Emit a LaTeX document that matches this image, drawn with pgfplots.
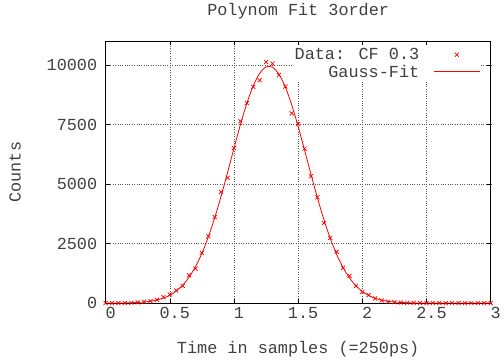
\documentclass[border=0pt]{standalone}
\usepackage{fontspec}
\setmainfont{Liberation Mono}
\usepackage{pgfplots}
\pgfplotsset{compat=1.18}
\definecolor{txt}{gray}{0.25}
\pgfdeclareplotmark{legline}{%
  \pgfpathmoveto{\pgfqpoint{-23pt}{0pt}}%
  \pgfpathlineto{\pgfqpoint{23pt}{0pt}}%
  \pgfusepathqstroke}
\pgfplotsset{
  mylegmark/.style={legend image code/.code={\draw[mark repeat=2,mark phase=2,##1] plot coordinates {(0pt,0pt) (23pt,0pt) (46pt,0pt)};}},
  mylegline/.style={legend image code/.code={\draw[mark repeat=2,mark phase=2,only marks,mark=legline,red,line width=0.8pt,mark options={red,solid}] plot coordinates {(0pt,0pt) (23pt,0pt) (46pt,0pt)};}},
}
\begin{document}
\begin{tikzpicture}
\begin{axis}[
  scale only axis,
  width=389pt, height=264.5pt,
  at={(0,0)}, anchor=south west,
  xmin=0, xmax=3, ymin=0, ymax=11000,
  xtick={0,0.5,1,1.5,2,2.5,3},
  ytick={0,2500,5000,7500,10000},
  xticklabels={0,0.5,1,1.5,2,2.5,3},
  yticklabels={0,2500,5000,7500,10000},
  scaled ticks=false,
  font=\fontsize{17}{20}\selectfont,
  tick label style={font=\fontsize{17}{20}\selectfont, text=txt},
  xticklabel style={xshift=5pt, yshift=-1pt},
  yticklabel style={xshift=-5pt},
  major tick length=4pt,
  tick style={black, line width=0.6pt},
  axis line style={black, line width=0.8pt},
  grid=major,
  major grid style={black!65, dotted, line width=0.5pt},
  title={Polynom Fit 3order},
  title style={at={(axis description cs:0.5,1.0756)}, anchor=base, font=\fontsize{17}{20}\selectfont, text=txt},
  xlabel={Time in samples (=250ps)},
  xlabel style={at={(axis description cs:0.5,-0.1928)}, anchor=base, font=\fontsize{17}{20}\selectfont, text=txt},
  ylabel={Counts},
  ylabel style={at={(axis description cs:-0.221,0.5)}, anchor=base, font=\fontsize{17}{20}\selectfont, text=txt},
  legend plot pos=right,
  legend cell align=right,
  legend style={at={(axis description cs:1,1)}, anchor=north east, xshift=-10pt, yshift=-4pt,
    draw=none, fill=white, inner sep=1pt, row sep=0pt,
    /tikz/every odd column/.append style={column sep=13pt},
    font=\fontsize{17}{20}\selectfont, text=txt},
]
\addplot[only marks, mark=x, mark size=2.9pt, red, line width=0.7pt, mylegmark]
coordinates {
(0,0) (0.05,0) (0.1,2) (0.15,5) (0.2,11) (0.25,28) (0.3,56) (0.35,83) (0.4,139) (0.45,250)
(0.5,361) (0.55,528) (0.6,722) (0.65,1167) (0.7,1444) (0.75,2111) (0.8,2806) (0.85,3611) (0.9,4667) (0.95,5262)
(1.0,6513) (1.05,7638) (1.1,8404) (1.15,9083) (1.2,9361) (1.25,10125) (1.3,10056) (1.35,9583) (1.4,9097) (1.45,7972)
(1.5,7528) (1.55,6486) (1.6,5333) (1.65,4444) (1.7,3361) (1.75,2736) (1.8,2153) (1.85,1486) (1.9,1139) (1.95,722)
(2.0,472) (2.05,333) (2.1,194) (2.15,111) (2.2,56) (2.25,40) (2.3,22) (2.35,12) (2.4,7) (2.45,3)
(2.5,1) (2.55,1) (2.6,0) (2.65,0) (2.7,0) (2.75,0) (2.8,0) (2.85,0) (2.9,0) (2.95,0) (3.0,0)
};
\addlegendentry{Data: CF 0.3}
\addplot[red, line width=0.8pt, smooth, mark=none, mylegline]
coordinates {
(0,1) (0.05,2) (0.1,4) (0.15,7.5) (0.2,13.9) (0.25,25.4) (0.3,44.9) (0.35,76.9) (0.4,128.5) (0.45,208.5)
(0.5,328.8) (0.55,503.9) (0.6,750.2) (0.65,1086) (0.7,1528) (0.75,2089) (0.8,2775) (0.85,3584) (0.9,4497) (0.95,5486)
(1.0,6503) (1.05,7491) (1.1,8388) (1.15,9127) (1.2,9652) (1.25,9920) (1.3,9909) (1.35,9619) (1.4,9075) (1.45,8321)
(1.5,7415) (1.55,6422) (1.6,5405) (1.65,4422) (1.7,3515) (1.75,2716) (1.8,2040) (1.85,1488) (1.9,1056) (1.95,727.6)
(2.0,487.5) (2.05,317.4) (2.1,200.7) (2.15,123.5) (2.2,73.8) (2.25,42.8) (2.3,24.2) (2.35,13.3) (2.4,7.1) (2.45,3.6)
(2.5,1.8) (2.55,0.9) (2.6,0.4) (2.65,0.2) (2.7,0.1) (2.75,0) (2.8,0) (2.85,0) (2.9,0) (2.95,0) (3.0,0)
};
\addlegendentry{Gauss-Fit}
\end{axis}
\path[use as bounding box] (-106.7pt,-52.5pt) rectangle (397.3pt,304.5pt);
\end{tikzpicture}
\end{document}
